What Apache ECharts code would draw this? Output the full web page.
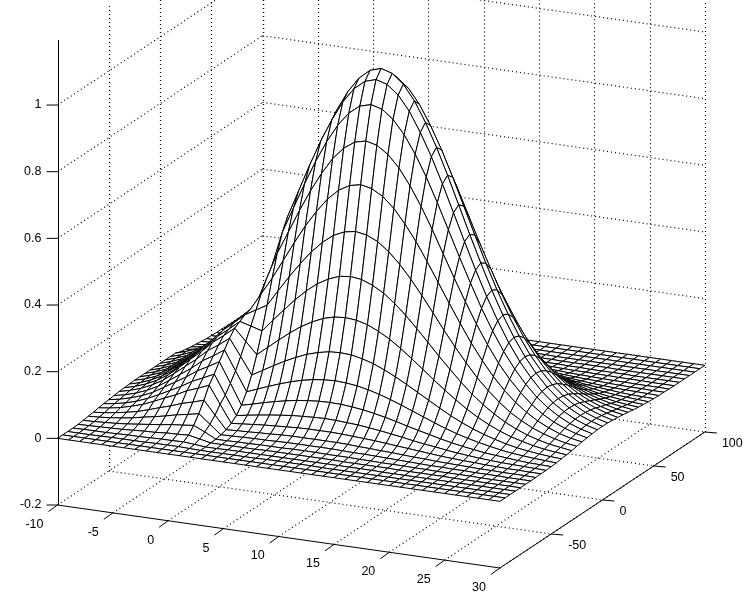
<!DOCTYPE html>
<html>
<head>
<meta charset="utf-8">
<style>
html, body { margin: 0; padding: 0; background: #fff; }
#main { width: 754px; height: 602px; }
</style>
<script src="https://cdn.jsdelivr.net/npm/echarts@6/dist/echarts.min.js"></script>
</head>
<body>
<div id="main"></div>
<script>
// ticks
var xTicks = [-10, -5, 0, 5, 10, 15, 20, 25, 30];
var yTicks = [-50, 0, 50, 100];
var zTicks = [-0.2, 0, 0.2, 0.4, 0.6, 0.8, 1];
var zLabels = ["-0.2", "0", "0.2", "0.4", "0.6", "0.8", "1"];

// mesh sample positions
var xGrid = [-10,-9,-8,-7,-6,-5,-4,-3,-2,-1,0,1,2,3,4,5,6,7,8,9,10,11,12,13,14,15,16,17,18,19,20,21,22,23,24,25,26,27,28,29,30];
var yGrid = [-100,-95,-90,-85,-80,-75,-70,-65,-60,-55,-50,-45,-40,-35,-30,-25,-20,-15,-10,-5,0,5,10,15,20,25,30,35,40,45,50,55,60,65,70,75,80,85,90,95,100];

// heights, one list per y row, x = -10 .. 30
var zAt100 = [0,0,0,0,0,0,0,0,0,0,0,0,0,0,0,0,0,0,0,0,0,0,0,0,0,0,0,0,0,0,0,0,0,0,0,0,0,0,0,0,0];
var zAt95 = [0,0,0,0,0,0,0,0,0,0,0,0,0,0,0,0,0,0,0,0,0,0,0,0,0,0,0,0,0,0,0,0,0,0,0,0,0,0,0,0,0];
var zAt90 = [0,0,0,0,0,0,0,0,0,0,0,0,0,0,0,0,0,0,.001,.001,.001,.001,.001,0,0,0,0,0,0,0,0,0,0,0,0,0,0,0,0,0,0];
var zAt85 = [0,0,0,0,0,0,0,0,0,0,0,0,0,0,.001,.001,.001,.001,.001,.001,.001,.001,.001,.001,.001,.001,.001,.001,0,0,0,0,0,0,0,0,0,0,0,0,0];
var zAt80 = [0,0,0,0,0,0,0,.001,.001,.001,.001,.001,.002,.002,.002,.002,.002,.003,.003,.003,.003,.003,.003,.003,.002,.002,.002,.002,.002,.001,.001,.001,.001,.001,0,0,0,0,0,0,0];
var zAt75 = [0,0,0,0,0,.001,.001,.001,.001,.002,.002,.003,.003,.003,.004,.004,.005,.005,.005,.006,.006,.006,.005,.005,.005,.004,.004,.003,.003,.003,.002,.002,.001,.001,.001,.001,0,0,0,0,0];
var zAt70 = [0,0,0,.001,.001,.001,.002,.002,.003,.003,.004,.005,.006,.007,.008,.009,.009,.010,.011,.011,.011,.011,.011,.010,.009,.009,.008,.007,.006,.005,.004,.003,.003,.002,.002,.001,.001,.001,0,0,0];
var zAt65 = [0,.001,.001,.001,.002,.002,.003,.004,.005,.006,.008,.009,.011,.013,.014,.016,.017,.019,.020,.020,.020,.020,.020,.019,.017,.016,.014,.013,.011,.009,.008,.006,.005,.004,.003,.002,.002,.001,.001,.001,0];
var zAt60 = [.001,.001,.002,.002,.003,.004,.006,.007,.009,.011,.014,.017,.020,.023,.026,.029,.031,.033,.035,.036,.036,.036,.035,.033,.031,.029,.026,.023,.020,.017,.014,.011,.009,.007,.006,.004,.003,.002,.002,.001,.001];
var zAt55 = [.001,.002,.003,.004,.005,.007,.009,.012,.015,.019,.024,.028,.033,.039,.044,.049,.053,.057,.059,.061,.062,.061,.059,.057,.053,.049,.044,.039,.033,.028,.024,.019,.015,.012,.009,.007,.005,.004,.003,.002,.001];
var zAt50 = [.002,.003,.004,.006,.009,.012,.015,.020,.025,.031,.038,.046,.054,.062,.071,.079,.086,.092,.096,.099,.100,.099,.096,.092,.086,.079,.071,.062,.054,.046,.038,.031,.025,.020,.015,.012,.009,.006,.004,.003,.002];
var zAt45 = [.003,.005,.007,.010,.013,.018,.024,.031,.039,.048,.059,.071,.084,.097,.110,.122,.133,.142,.149,.153,.155,.153,.149,.142,.133,.122,.110,.097,.084,.071,.059,.048,.039,.031,.024,.018,.013,.010,.007,.005,.003];
var zAt40 = [.005,.007,.010,.014,.019,.026,.035,.045,.057,.071,.087,.105,.124,.143,.162,.180,.196,.210,.220,.227,.229,.227,.220,.210,.196,.180,.162,.143,.124,.105,.087,.071,.057,.045,.035,.026,.019,.014,.010,.007,.005];
var zAt35 = [.007,.010,.014,.020,.028,.037,.049,.064,.081,.101,.124,.149,.175,.202,.229,.255,.278,.297,.312,.321,.324,.321,.312,.297,.278,.255,.229,.202,.175,.149,.124,.101,.081,.064,.049,.037,.028,.020,.014,.010,.007];
var zAt30 = [.009,.014,.019,.027,.037,.050,.066,.086,.109,.136,.167,.201,.236,.273,.309,.344,.375,.401,.420,.433,.437,.433,.420,.401,.375,.344,.309,.273,.236,.201,.167,.136,.109,.086,.066,.050,.037,.027,.019,.014,.009];
var zAt25 = [.012,.017,.025,.035,.048,.065,.085,.111,.141,.175,.215,.258,.303,.351,.398,.442,.482,.515,.541,.556,.562,.556,.541,.515,.482,.442,.398,.351,.303,.258,.215,.175,.141,.111,.085,.065,.048,.035,.025,.017,.012];
var zAt20 = [.015,.021,.030,.043,.059,.080,.105,.136,.173,.216,.264,.318,.374,.432,.490,.545,.593,.635,.666,.685,.692,.685,.666,.635,.593,.545,.490,.432,.374,.318,.264,.216,.173,.136,.105,.080,.059,.043,.030,.021,.015];
var zAt15 = [.021,.031,.044,.062,.085,.115,.146,.177,.213,.240,.270,.355,.439,.507,.576,.640,.697,.746,.782,.805,.813,.805,.782,.746,.697,.640,.576,.507,.439,.373,.311,.254,.203,.160,.124,.093,.069,.050,.036,.025,.017];
var zAt10 = [.021,.031,.044,.062,.085,.115,.146,.177,.213,.240,.270,.381,.492,.569,.646,.718,.782,.836,.877,.903,.912,.903,.877,.836,.782,.718,.646,.569,.492,.419,.348,.285,.228,.180,.139,.105,.078,.057,.040,.028,.019];
var zAt5 = [.021,.031,.044,.062,.085,.115,.146,.177,.213,.240,.270,.399,.528,.610,.692,.769,.837,.896,.940,.967,.977,.967,.940,.896,.837,.769,.692,.610,.528,.448,.373,.305,.244,.192,.149,.112,.083,.061,.043,.030,.021];
var zAt0 = [.021,.031,.044,.062,.085,.115,.146,.177,.213,.240,.270,.405,.540,.624,.708,.787,.857,.917,.962,.990,1,.990,.962,.917,.857,.787,.708,.624,.540,.459,.382,.312,.250,.197,.152,.115,.085,.062,.044,.031,.021];

// front half differs only left of x = 2, where the shoulder and its crease are
var zAtM90 = [0,0,0,0,.001,.001,.001,.001,.002,.002,.002,.001].concat(zAt90.slice(12));
var zAtM85 = [0,.001,.001,.001,.002,.003,.003,.004,.005,.005,.006,.003].concat(zAt85.slice(12));
var zAtM80 = [.001,.002,.003,.004,.005,.007,.009,.010,.013,.014,.016,.009].concat(zAt80.slice(12));
var zAtM75 = [.003,.004,.006,.008,.011,.015,.019,.023,.028,.031,.035,.020].concat(zAt75.slice(12));
var zAtM70 = [.005,.007,.010,.014,.019,.026,.032,.039,.047,.053,.060,.033].concat(zAt70.slice(12));
var zAtM65 = [.007,.010,.015,.021,.028,.038,.049,.059,.071,.080,.090,.050].concat(zAt65.slice(12));
var zAtM60 = [.010,.014,.020,.029,.039,.053,.068,.082,.099,.111,.125,.072].concat(zAt60.slice(12));
var zAtM55 = [.012,.017,.024,.034,.047,.063,.080,.097,.117,.132,.148,.090].concat(zAt55.slice(12));
var zAtM50 = [.014,.020,.029,.040,.055,.075,.095,.115,.138,.156,.175,.115].concat(zAt50.slice(12));
var zAtM45 = [.016,.023,.033,.046,.063,.085,.108,.131,.158,.178,.200,.142].concat(zAt45.slice(12));
var zAtM40 = [.018,.026,.037,.052,.071,.096,.122,.148,.178,.200,.225,.175].concat(zAt40.slice(12));
var zAtM35 = [.019,.028,.040,.056,.077,.104,.133,.161,.193,.218,.245,.210].concat(zAt35.slice(12));
var zAtM30 = [.020,.029,.042,.059,.080,.109,.138,.167,.201,.227,.255,.246].concat(zAt30.slice(12));
var zAtM25 = [.021,.030,.043,.061,.083,.113,.143,.174,.209,.236,.265,.284].concat(zAt25.slice(12));
var zAtM20 = [.021,.031,.044,.062,.085,.115,.146,.177,.213,.240,.270,.322].concat(zAt20.slice(12));

var zRows = [
  zAt100, zAt95, zAtM90, zAtM85, zAtM80, zAtM75, zAtM70, zAtM65, zAtM60, zAtM55, zAtM50,
  zAtM45, zAtM40, zAtM35, zAtM30, zAtM25, zAtM20, zAt15, zAt10, zAt5, zAt0,
  zAt5, zAt10, zAt15, zAt20, zAt25, zAt30, zAt35, zAt40, zAt45, zAt50,
  zAt55, zAt60, zAt65, zAt70, zAt75, zAt80, zAt85, zAt90, zAt95, zAt100
];

var zFloor = -0.2;
var zTop = 1.195;

// fixed oblique view, same as the box in the picture
function project(x, y, z) {
  return [
    57.5 + (x + 10) * 11.06 + (y + 100) * 1.025,
    505 + (x + 10) * 1.575 - (y + 100) * 0.68 - (z - zFloor) * 333.3,
  ];
}

// dotted box lines: [from, to] in data space
var gridLines = [];
xTicks.forEach(function (x) {
  gridLines.push([[x, -100, zFloor], [x, 100, zFloor]]);
  gridLines.push([[x, 100, zFloor], [x, 100, zTop]]);
});
yTicks.forEach(function (y) {
  gridLines.push([[-10, y, zFloor], [30, y, zFloor]]);
  gridLines.push([[-10, y, zFloor], [-10, y, zTop]]);
});
zTicks.slice(1).forEach(function (z) {
  gridLines.push([[-10, -100, z], [-10, 100, z]]);
  gridLines.push([[-10, 100, z], [30, 100, z]]);
});

// back corner first so nearer cells paint over farther ones
var cells = [];
for (var i = 0; i < xGrid.length - 1; i++) {
  for (var j = yGrid.length - 2; j >= 0; j--) {
    cells.push([i, j]);
  }
}

var axisLines = [
  [[-10, -100, zFloor], [-10, -100, zTop]],
  [[-10, -100, zFloor], [30, -100, zFloor]],
  [[30, -100, zFloor], [30, 100, zFloor]],
];

function toPixel(api, p) {
  return api.coord(project(p[0], p[1], p[2]));
}

// vertical lines look better snapped to a pixel column
function snap(a, b) {
  if (Math.abs(a[0] - b[0]) < 0.5) {
    var c = Math.round(a[0]) + 0.5;
    return [[c, a[1]], [c, b[1]]];
  }
  return [a, b];
}

function renderSegment(lines, style) {
  return function (params, api) {
    var seg = lines[params.dataIndex];
    var s = snap(toPixel(api, seg[0]), toPixel(api, seg[1]));
    return {
      type: "line",
      shape: { x1: s[0][0], y1: s[0][1], x2: s[1][0], y2: s[1][1] },
      style: style,
    };
  };
}

function renderCell(params, api) {
  var i = api.value(0);
  var j = api.value(1);
  var pts = [
    [xGrid[i], yGrid[j], zRows[j][i]],
    [xGrid[i + 1], yGrid[j], zRows[j][i + 1]],
    [xGrid[i + 1], yGrid[j + 1], zRows[j + 1][i + 1]],
    [xGrid[i], yGrid[j + 1], zRows[j + 1][i]],
  ].map(function (p) {
    return toPixel(api, p);
  });
  return {
    type: "polygon",
    shape: { points: pts },
    style: { fill: "#fff", stroke: "#000", lineWidth: 1 },
  };
}

// tick marks and their labels
var tickMarks = [];
var tickTexts = [];
zTicks.forEach(function (z, k) {
  tickMarks.push({ at: [-10, -100, z], dx: -11, dy: 0 });
  tickTexts.push({ at: [-10, -100, z], dx: -16, dy: 0, text: zLabels[k], align: "right" });
});
xTicks.forEach(function (x) {
  tickMarks.push({ at: [x, -100, zFloor], dx: -9, dy: 6.5 });
  tickTexts.push({ at: [x, -100, zFloor], dx: -14, dy: 19.5, text: String(x), align: "right" });
});
yTicks.forEach(function (y) {
  tickMarks.push({ at: [30, y, zFloor], dx: 12, dy: 1 });
  tickTexts.push({ at: [30, y, zFloor], dx: 17, dy: 11.5, text: String(y), align: "left" });
});

var option = {
  animation: false,
  backgroundColor: "#fff",
  grid: { left: 0, right: 0, top: 0, bottom: 0 },
  xAxis: { type: "value", min: 0, max: 754, show: false },
  yAxis: { type: "value", min: 0, max: 602, inverse: true, show: false },
  series: [
    {
      type: "custom",
      data: gridLines.map(function (l, k) { return [k, 0]; }),
      renderItem: renderSegment(gridLines, { stroke: "#000", lineWidth: 1.2, lineDash: [1, 3] }),
      silent: true,
      progressive: 0,
      z: 1,
    },
    {
      type: "custom",
      data: cells,
      renderItem: renderCell,
      silent: true,
      progressive: 0,
      z: 2,
    },
    {
      type: "custom",
      data: axisLines.map(function (l, k) { return [k, 0]; }),
      renderItem: renderSegment(axisLines, { stroke: "#000", lineWidth: 1 }),
      silent: true,
      z: 3,
    },
    {
      type: "custom",
      data: tickMarks.map(function (l, k) { return [k, 0]; }),
      renderItem: function (params, api) {
        var t = tickMarks[params.dataIndex];
        var p = toPixel(api, t.at);
        return {
          type: "line",
          shape: { x1: p[0], y1: p[1], x2: p[0] + t.dx, y2: p[1] + t.dy },
          style: { stroke: "#000", lineWidth: 1 },
        };
      },
      silent: true,
      z: 3,
    },
    {
      type: "custom",
      data: tickTexts.map(function (l, k) { return [k, 0]; }),
      renderItem: function (params, api) {
        var t = tickTexts[params.dataIndex];
        var p = toPixel(api, t.at);
        return {
          type: "text",
          style: {
            x: p[0] + t.dx,
            y: p[1] + t.dy,
            text: t.text,
            fill: "#000",
            align: t.align,
            verticalAlign: "middle",
            font: "12.5px 'Liberation Sans'",
          },
        };
      },
      silent: true,
      z: 4,
    },
  ],
};

var myChart = echarts.init(document.getElementById("main"));
myChart.setOption(option);
</script>
</body>
</html>
